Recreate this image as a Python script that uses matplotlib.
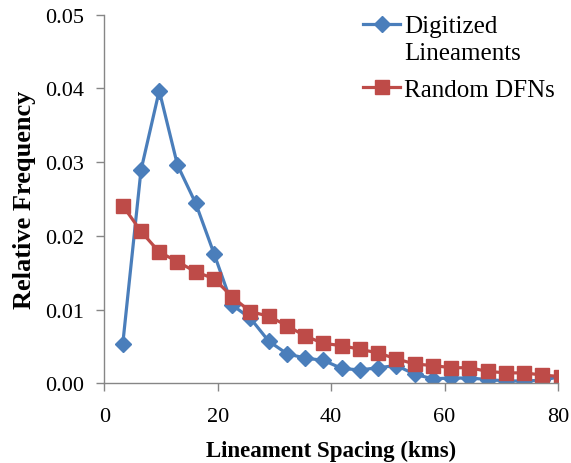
import numpy as np
import matplotlib
matplotlib.use('Agg')
import matplotlib.pyplot as plt
from matplotlib.ticker import FormatStrFormatter
from matplotlib.offsetbox import HPacker

# bin centres (kms), last one lies just past the axis end
spacing = [3.22, 6.44, 9.66, 12.88, 16.10, 19.32, 22.54, 25.76, 28.98, 32.20,
           35.42, 38.64, 41.86, 45.08, 48.30, 51.52, 54.74, 57.96, 61.18, 64.40,
           67.62, 70.84, 74.06, 77.28, 80.50]

digitized = [0.0053, 0.0289, 0.0397, 0.0296, 0.0244, 0.0176, 0.0106, 0.0088,
             0.0057, 0.0040, 0.0034, 0.0031, 0.0020, 0.0018, 0.0021, 0.0024,
             0.0012, 0.0006, 0.0007, 0.0007, 0.0005, 0.0003, 0.0003, 0.0004,
             0.0009]

random_dfn = [0.0241, 0.0206, 0.0178, 0.0165, 0.0151, 0.0142, 0.0117, 0.0097,
              0.0091, 0.0078, 0.0064, 0.0054, 0.0051, 0.0046, 0.0041, 0.0033,
              0.0026, 0.0024, 0.0021, 0.0021, 0.0016, 0.0014, 0.0014, 0.0011,
              0.0009]

plt.rcParams['font.family'] = ['Liberation Serif', 'DejaVu Serif']

fig = plt.figure(figsize=(5.71, 4.64), dpi=100)
ax = fig.add_axes([0.183, 0.172, 0.794, 0.794])

blue = '#4A7EBB'
red = '#BE4B48'

ax.plot(spacing, digitized, color=blue, lw=2.3, marker='D', markersize=8.5,
        label='Digitized\nLineaments')
ax.plot(spacing, random_dfn, color=red, lw=2.3, marker='s', markersize=9.5,
        label='Random DFNs')

ax.set_xlim(0, 80)
ax.set_ylim(0, 0.05)
ax.set_xticks([0, 20, 40, 60, 80])
ax.set_yticks([0, 0.01, 0.02, 0.03, 0.04, 0.05])
ax.yaxis.set_major_formatter(FormatStrFormatter('%.2f'))

for s in ['top', 'right']:
    ax.spines[s].set_visible(False)
for s in ['left', 'bottom']:
    ax.spines[s].set_color('#868686')
    ax.spines[s].set_linewidth(1.0)
ax.tick_params(direction='out', length=6, width=1, color='#868686',
               labelsize=16)
ax.tick_params(axis='x', pad=11)
ax.tick_params(axis='y', pad=9)

ax.set_xlabel('Lineament Spacing (kms)', fontsize=16.5, fontweight='bold', labelpad=10)
ax.set_ylabel('Relative Frequency', fontsize=19, fontweight='bold', labelpad=6)

leg = ax.legend(loc='upper right', bbox_to_anchor=(1.043, 1.06), frameon=False,
                fontsize=18, handlelength=1.5, handletextpad=0.15,
                labelspacing=0.57)
leg.get_texts()[0].set_linespacing(1.3)
# put the marker next to the first line of the two-line label
for box in leg.get_children()[0].findobj(HPacker):
    box.align = 'top'

fig.savefig('out.png', dpi=100)
